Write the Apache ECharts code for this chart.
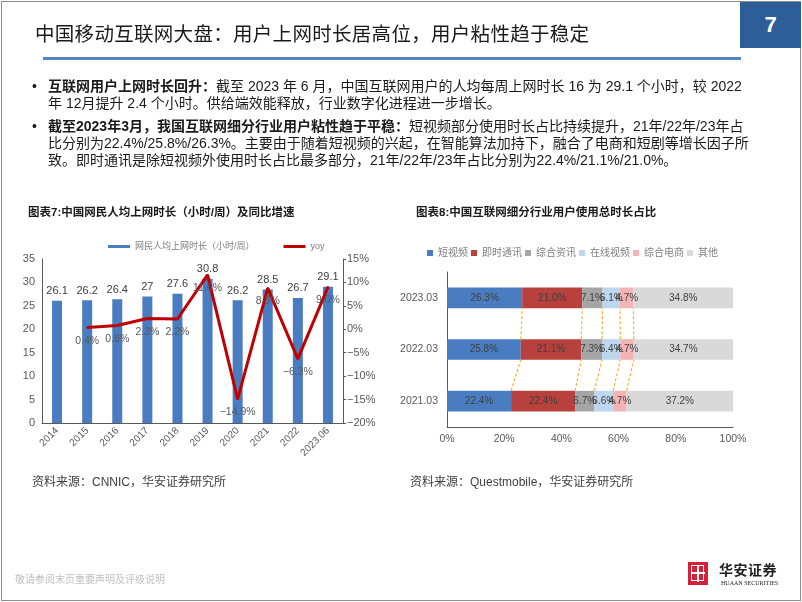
<!DOCTYPE html>
<html><head><meta charset="utf-8">
<script src="https://cdn.jsdelivr.net/npm/echarts@6/dist/echarts.min.js"></script>
<style>
html,body{margin:0;padding:0;background:#fff;}
#page{position:relative;width:802px;height:602px;overflow:hidden;background:#fff;font-family:"Liberation Sans","Noto Sans CJK SC",sans-serif;}
#chart{position:absolute;left:0;top:0;width:802px;height:602px;}
.t{position:absolute;white-space:nowrap;}
.bl{font-size:14px;line-height:17px;color:#1a1a1a;}
b{font-weight:700;}
</style></head>
<body>
<div id="page">
  <div id="chart"></div>
  <div style="position:absolute;left:1px;top:1px;width:798px;height:598px;border:1px solid #8c8c8c;pointer-events:none;"></div>
  <div class="t" style="left:35px;top:20px;font-size:19.5px;line-height:26px;letter-spacing:0.3px;color:#1a1a1a;font-family:'Noto Sans CJK SC';font-weight:400;">中国移动互联网大盘：用户上网时长居高位，用户粘性趋于稳定</div>
  <div style="position:absolute;left:43px;top:57px;width:698px;height:2.5px;background:#4F87C9;"></div>
  <div style="position:absolute;left:740px;top:2px;width:61px;height:46px;background:#2E5E97;color:#fff;font-size:22px;font-weight:700;text-align:center;line-height:46px;font-family:'Liberation Sans',sans-serif;">7</div>

  <div class="t bl" style="left:32px;top:78px;">•</div>
  <div class="t bl" style="left:48px;top:78px;"><b>互联网用户上网时长回升：</b>截至 2023 年 6 月，中国互联网用户的人均每周上网时长 16 为 29.1 个小时，较 2022</div>
  <div class="t bl" style="left:48px;top:95px;">年 12月提升 2.4 个小时。供给端效能释放，行业数字化进程进一步增长。</div>
  <div class="t bl" style="left:32px;top:118px;">•</div>
  <div class="t bl" style="left:48px;top:118px;"><b>截至2023年3月，我国互联网细分行业用户粘性趋于平稳：</b>短视频部分使用时长占比持续提升，21年/22年/23年占</div>
  <div class="t bl" style="left:48px;top:135px;">比分别为22.4%/25.8%/26.3%。主要由于随着短视频的兴起，在智能算法加持下，融合了电商和短剧等增长因子所</div>
  <div class="t bl" style="left:48px;top:152px;">致。即时通讯是除短视频外使用时长占比最多部分，21年/22年/23年占比分别为22.4%/21.1%/21.0%。</div>

  <div class="t" style="left:28px;top:204px;font-size:11.5px;line-height:16px;font-weight:700;color:#1a1a1a;">图表7:中国网民人均上网时长（小时/周）及同比增速</div>
  <div class="t" style="left:416px;top:204px;font-size:11.5px;line-height:16px;font-weight:700;color:#1a1a1a;">图表8:中国互联网细分行业用户使用总时长占比</div>

  <div class="t" style="left:32px;top:474px;font-size:12px;line-height:16px;color:#404040;">资料来源：CNNIC，华安证券研究所</div>
  <div class="t" style="left:410px;top:474px;font-size:12px;line-height:16px;color:#404040;">资料来源：Questmobile，华安证券研究所</div>
  <div class="t" style="left:15px;top:573px;font-size:10px;line-height:14px;color:#bfbfbf;">敬请参阅末页重要声明及评级说明</div>

  <div style="position:absolute;left:688px;top:562px;width:20px;height:23px;background:#D6203A;">
    <div style="position:absolute;left:3px;top:3px;width:11px;height:14px;border:1.5px solid #fff;"></div>
    <div style="position:absolute;left:9px;top:3px;width:1.5px;height:17px;background:#fff;"></div>
    <div style="position:absolute;left:3px;top:10px;width:14px;height:1.5px;background:#fff;"></div>
  </div>
  <div class="t" style="left:719px;top:560px;font-size:14px;line-height:18px;font-weight:700;color:#222;font-family:'Noto Sans CJK SC';letter-spacing:0.5px;">华安证券</div>
  <div class="t" style="left:721px;top:579px;font-size:6px;line-height:8px;color:#222;font-family:'Liberation Serif',serif;">HUAAN SECURITIES</div>
</div>
<script>
// Chart 7 data
const years = ['2014','2015','2016','2017','2018','2019','2020','2021','2022','2023.06'];
const hours = [26.1, 26.2, 26.4, 27, 27.6, 30.8, 26.2, 28.5, 26.7, 29.1];
const yoy = [null, 0.4, 0.8, 2.3, 2.2, 11.6, -14.9, 8.8, -6.3, 9.0];

// Chart 8 data
const periods = ['2021.03', '2022.03', '2023.03'];
const shortVideo = [22.4, 25.8, 26.3];
const instantMsg = [22.4, 21.1, 21.0];
const news = [6.7, 7.3, 7.1];
const onlineVideo = [6.6, 6.4, 6.1];
const ecommerce = [4.7, 4.7, 4.7];
const others = [37.2, 34.7, 34.8];
const segNames = ['短视频', '即时通讯', '综合资讯', '在线视频', '综合电商', '其他'];
const segColors = ['#4A7CC2', '#B8403D', '#A5A5A5', '#BDD7EE', '#F4B4B4', '#D9D9D9'];

const stacks = [shortVideo, instantMsg, news, onlineVideo, ecommerce, others];
const cum = periods.map((_, i) => { let s = 0; return stacks.map(a => (s += a[i])); });
const connectors = [];
for (let i = 0; i < periods.length - 1; i++) {
  for (let k = 0; k < stacks.length - 1; k++) {
    connectors.push([cum[i][k], i, cum[i + 1][k], i + 1]);
  }
}

const chart = echarts.init(document.getElementById('chart'));
const axisLineStyle = { color: '#595959', width: 1 };
const option = {
  animation: false,
  textStyle: { fontFamily: "'Liberation Sans','Noto Sans CJK SC',sans-serif" },
  legend: [
    {
      left: 103, top: 237, itemWidth: 22, itemHeight: 3, itemGap: 29,
      data: [{ name: '网民人均上网时长（小时/周）', icon: 'rect' }, { name: 'yoy', icon: 'rect' }],
      textStyle: { fontSize: 9, color: '#7f7f7f' }
    },
    {
      left: 422, top: 243, itemWidth: 6, itemHeight: 6, itemGap: 3,
      data: segNames.map(n => ({ name: n, icon: 'rect' })),
      textStyle: { fontSize: 10, color: '#7f7f7f' }
    }
  ],
  grid: [
    { left: 42, top: 259, width: 301, height: 164 },
    { left: 447, top: 272, width: 286, height: 155 }
  ],
  xAxis: [
    {
      gridIndex: 0, type: 'category', data: years,
      axisLine: { lineStyle: axisLineStyle }, axisTick: { show: false },
      axisLabel: { rotate: 45, fontSize: 10, color: '#595959', margin: 6, interval: 0 }
    },
    {
      gridIndex: 1, type: 'value', min: 0, max: 100, interval: 20,
      axisLine: { show: true, lineStyle: axisLineStyle }, axisTick: { show: false },
      splitLine: { show: false },
      axisLabel: { formatter: '{value}%', fontSize: 10.5, color: '#595959', margin: 7 }
    }
  ],
  yAxis: [
    {
      gridIndex: 0, type: 'value', min: 0, max: 35, interval: 5,
      axisLine: { show: true, lineStyle: axisLineStyle }, axisTick: { show: false },
      splitLine: { show: false },
      axisLabel: { fontSize: 11, color: '#595959', margin: 7 }
    },
    {
      gridIndex: 0, type: 'value', position: 'right', min: -20, max: 15, interval: 5,
      axisLine: { show: true, lineStyle: axisLineStyle },
      axisTick: { show: true, length: 3, lineStyle: axisLineStyle },
      splitLine: { show: false },
      axisLabel: { formatter: v => (v < 0 ? '−' + Math.abs(v) : v) + '%', fontSize: 11, color: '#595959', margin: 4 }
    },
    {
      gridIndex: 1, type: 'category', data: periods,
      axisLine: { show: true, lineStyle: axisLineStyle }, axisTick: { show: false },
      axisLabel: { fontSize: 10.5, color: '#595959', margin: 9 }
    }
  ],
  series: [
    {
      name: '网民人均上网时长（小时/周）', type: 'bar', xAxisIndex: 0, yAxisIndex: 0,
      data: hours, barWidth: 10, itemStyle: { color: '#4A7CC2' },
      label: { show: true, position: 'top', distance: 4, fontSize: 11, color: '#404040' }
    },
    {
      name: 'yoy', type: 'line', xAxisIndex: 0, yAxisIndex: 1,
      data: yoy, symbol: 'circle', symbolSize: 2,
      itemStyle: { color: '#C00000' }, lineStyle: { color: '#C00000', width: 3 },
      label: {
        show: true, position: 'bottom', distance: 7, fontSize: 10.5, color: '#595959',
        formatter: p => p.value == null ? '' : (p.value < 0 ? '−' + Math.abs(p.value).toFixed(1) : p.value.toFixed(1)) + '%'
      }
    },
    ...stacks.map((arr, k) => ({
      name: segNames[k], type: 'bar', stack: 'total', xAxisIndex: 1, yAxisIndex: 2,
      data: arr, barWidth: '40%', itemStyle: { color: segColors[k] },
      label: {
        show: true, position: 'inside', fontSize: 10, color: '#404040',
        formatter: p => p.value.toFixed(1) + '%'
      }
    })),
    {
      type: 'custom', xAxisIndex: 1, yAxisIndex: 2, silent: true, z: 3,
      data: connectors,
      encode: { x: [0, 2], y: [1, 3] },
      renderItem: (params, api) => {
        const band = api.size([0, 1])[1];
        const half = band * 0.4 / 2;
        const p1 = api.coord([api.value(0), api.value(1)]);
        const p2 = api.coord([api.value(2), api.value(3)]);
        return {
          type: 'line',
          shape: { x1: p1[0], y1: p1[1] - half, x2: p2[0], y2: p2[1] + half },
          style: { stroke: '#F5B335', lineWidth: 1.2, lineDash: [3, 2] }
        };
      }
    }
  ]
};
chart.setOption(option);
</script>
</body></html>
